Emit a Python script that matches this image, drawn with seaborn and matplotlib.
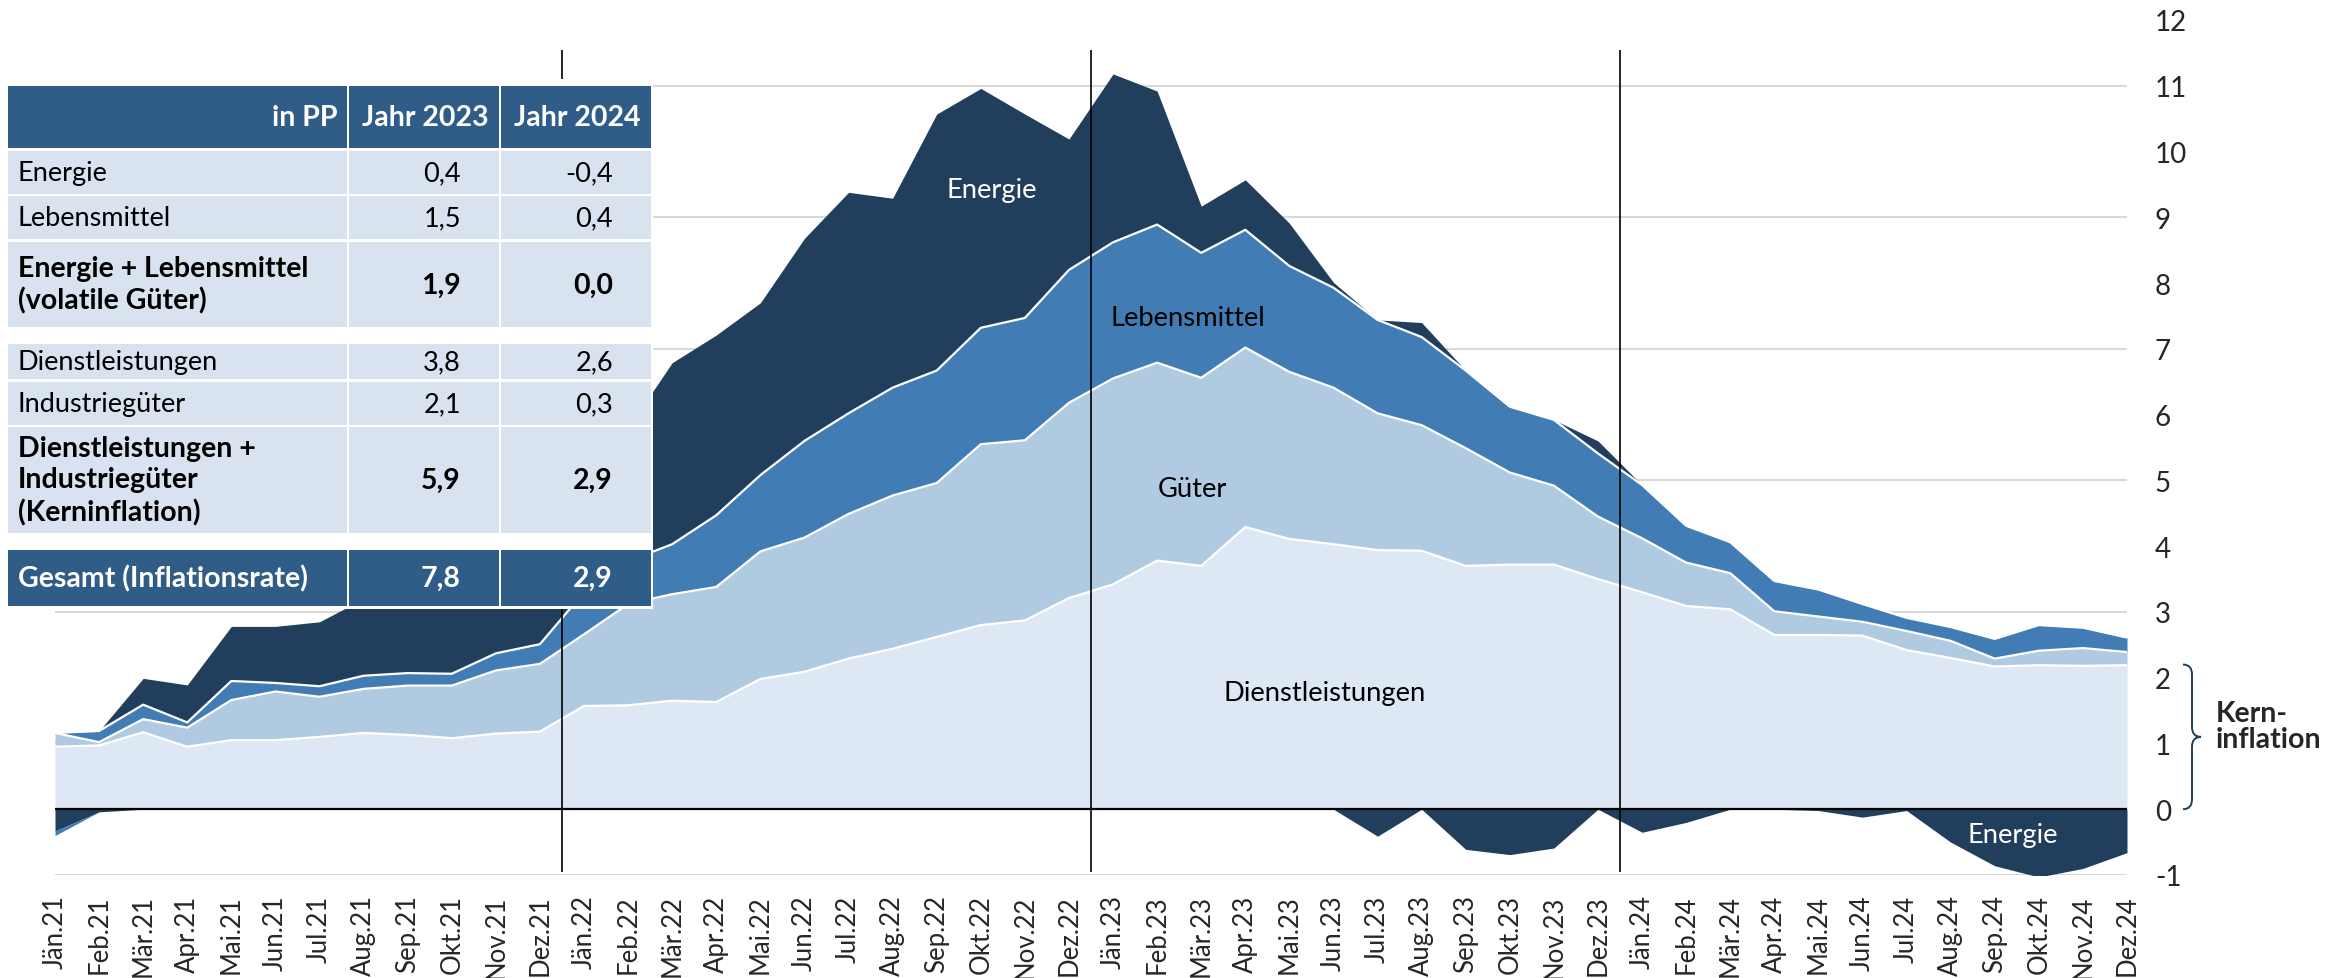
import numpy as np
import pandas as pd
import matplotlib
matplotlib.use("Agg")
import matplotlib.pyplot as plt
import matplotlib.transforms as mtransforms
from matplotlib.patches import Rectangle, PathPatch
from matplotlib.path import Path
import seaborn as sns

# --- Daten: Beiträge zur Inflationsrate in Prozentpunkten ---
monate = ["Jän", "Feb", "Mär", "Apr", "Mai", "Jun", "Jul", "Aug", "Sep", "Okt", "Nov", "Dez"]
jahre = ["21", "22", "23", "24"]

dienstleistungen = [0.95, 0.97, 1.17, 0.95, 1.05, 1.05, 1.10, 1.16, 1.13, 1.08, 1.15, 1.18,
                    1.57, 1.58, 1.65, 1.63, 1.98, 2.09, 2.29, 2.44, 2.62, 2.80, 2.87, 3.21,
                    3.42, 3.78, 3.70, 4.29, 4.11, 4.03, 3.94, 3.93, 3.70, 3.72, 3.72, 3.50,
                    3.30, 3.09, 3.04, 2.65, 2.65, 2.64, 2.42, 2.30, 2.17, 2.19, 2.18, 2.19]
gueter = [0.21, 0.05, 0.20, 0.29, 0.61, 0.74, 0.61, 0.67, 0.75, 0.80, 0.96, 1.03,
          1.09, 1.54, 1.62, 1.75, 1.94, 2.04, 2.20, 2.33, 2.34, 2.75, 2.74, 2.97,
          3.13, 3.01, 2.86, 2.73, 2.54, 2.38, 2.08, 1.91, 1.79, 1.40, 1.20, 0.95,
          0.82, 0.66, 0.55, 0.36, 0.28, 0.21, 0.29, 0.26, 0.12, 0.22, 0.27, 0.20]
lebensmittel = [-0.07, 0.17, 0.22, 0.08, 0.29, 0.13, 0.16, 0.20, 0.19, 0.18, 0.26, 0.30,
                0.64, 0.65, 0.76, 1.09, 1.16, 1.47, 1.53, 1.64, 1.71, 1.77, 1.86, 2.02,
                2.07, 2.10, 1.90, 1.79, 1.61, 1.52, 1.42, 1.34, 1.18, 1.00, 1.00, 0.96,
                0.81, 0.56, 0.47, 0.46, 0.41, 0.27, 0.20, 0.21, 0.30, 0.39, 0.31, 0.22]
energie = [-0.33, -0.04, 0.40, 0.57, 0.83, 0.86, 0.98, 1.17, 1.23, 1.64, 1.93, 1.79,
           1.70, 2.03, 2.76, 2.74, 2.62, 3.08, 3.36, 2.88, 3.90, 3.64, 3.10, 1.99,
           2.56, 2.03, 0.71, 0.76, 0.65, 0.08, -0.41, 0.22, -0.61, -0.69, -0.59, 0.19,
           -0.35, -0.20, 0.00, 0.00, -0.02, -0.12, -0.02, -0.50, -0.86, -1.03, -0.90, -0.66]

# Tabelle (in PP)
tab_zeilen = ["Energie", "Lebensmittel", "Energie + Lebensmittel\n(volatile Güter)",
              "Dienstleistungen", "Industriegüter",
              "Dienstleistungen +\nIndustriegüter\n(Kerninflation)", "Gesamt (Inflationsrate)"]
tab_2023 = [0.4, 1.5, 1.9, 3.8, 2.1, 5.9, 7.8]
tab_2024 = [-0.4, 0.4, 0.0, 2.6, 0.3, 2.9, 2.9]
tab_fett = [False, False, True, False, False, True, True]
tab_kopf = ["in PP", "Jahr 2023", "Jahr 2024"]

# --- Farben ---
C_ENERGIE = "#213F5D"
C_LEBENS = "#417CB4"
C_GUETER = "#B0CAE1"
C_DIENST = "#DDE8F4"
C_KOPF = "#305D88"
C_ZEILE = "#D8E3EF"
C_GRID = "#D9D9D9"

sns.set_theme(style="white")
plt.rcParams['font.family'] = ['Lato', 'DejaVu Sans']

df = pd.DataFrame({
    "monat": np.arange(len(dienstleistungen)),
    "dienst": dienstleistungen,
    "gueter": gueter,
    "lebens": lebensmittel,
    "energie": energie,
})
df["t1"] = df["dienst"]
df["t2"] = df["t1"] + df["gueter"]
df["t3"] = df["t2"] + df["lebens"].clip(lower=0)
df["t4"] = df["t3"] + df["energie"].clip(lower=0)
df["n1"] = df["energie"].clip(upper=0)
df["n2"] = df["n1"] + df["lebens"].clip(upper=0)

labels = [f"{m}.{j}" for j in jahre for m in monate]

W, H = 2346, 979
fig = plt.figure(figsize=(W / 100, H / 100), dpi=100)
ax = fig.add_axes([55 / W, (H - 876) / H, 2072 / W, (876 - 21) / H])

x = df["monat"]
for v in range(-1, 12, 2):
    ax.axhline(v, color=C_GRID, lw=1.5, zorder=1)

ax.fill_between(x, 0, df["t1"], color=C_DIENST, lw=0, zorder=2)
ax.fill_between(x, df["t1"], df["t2"], color=C_GUETER, lw=0, zorder=2)
ax.fill_between(x, df["t2"], df["t3"], color=C_LEBENS, lw=0, zorder=2)
ax.fill_between(x, df["t3"], df["t4"], color=C_ENERGIE, lw=0, zorder=2)
ax.fill_between(x, 0, df["n1"], color=C_ENERGIE, lw=0, zorder=2)
ax.fill_between(x, df["n1"], df["n2"], color=C_LEBENS, lw=0, zorder=2)

for col in ["t1", "t2", "t3"]:
    sns.lineplot(data=df, x="monat", y=col, color="white", lw=1.6, ax=ax, zorder=3)

ax.axhline(0, color="black", lw=1.6, zorder=4)

# Jahrestrennlinien
jahr_grenzen = [12 * k - 0.5 for k in range(1, len(jahre))]
ax.vlines(jahr_grenzen, -0.95, 11.55, color="black", lw=1.2, zorder=5, clip_on=False)

ax.set_xlim(0, len(labels) - 1)
ax.set_ylim(-1, 12)
ax.set_xticks(x)
ax.set_xticklabels(labels, rotation=90, fontsize=18.5)
ax.yaxis.tick_right()
ax.set_yticks(range(-1, 13))
ax.set_yticklabels([str(v) for v in range(-1, 13)], fontsize=20)
ax.tick_params(axis="x", length=0, pad=14)
ax.tick_params(axis="y", length=0, pad=20)
ax.set_xlabel("")
ax.set_ylabel("")
for s in ax.spines.values():
    s.set_visible(False)

# Flächenbeschriftungen
fs_lab = 19.7
ax.text(21.25, 9.43, "Energie", color="white", fontsize=fs_lab, ha="center", va="center", zorder=6)
ax.text(25.7, 7.47, "Lebensmittel", color="black", fontsize=fs_lab, ha="center", va="center", zorder=6)
ax.text(25.8, 4.88, "Güter", color="black", fontsize=fs_lab, ha="center", va="center", zorder=6)
ax.text(28.8, 1.78, "Dienstleistungen", color="black", fontsize=fs_lab, ha="center", va="center", zorder=6)
ax.text(44.4, -0.38, "Energie", color="white", fontsize=fs_lab, ha="center", va="center", zorder=6)

# --- Overlay in Pixelkoordinaten für Tabelle und Klammer ---
ov = fig.add_axes([0, 0, 1, 1])
ov.set_xlim(0, W)
ov.set_ylim(H, 0)
ov.axis("off")
ov.patch.set_alpha(0)
ov.set_zorder(10)

ov.add_patch(Rectangle((0, 80), 653, 530, color="white", lw=0))
spalten = [(8, 347), (349, 499), (501, 651)]
zeilen = [(87, 149), (152, 195), (197, 240), (243, 328), (345, 380), (383, 426), (428, 534), (551, 607)]


def zelle(row, dunkel):
    y0, y1 = row
    for x0, x1 in spalten:
        ov.add_patch(Rectangle((x0, y0), x1 - x0, y1 - y0, color=C_KOPF if dunkel else C_ZEILE, lw=0))


def fs(fett):
    return 20.5 if fett else 19.5


# Kopfzeile
zelle(zeilen[0], True)
ym = sum(zeilen[0]) / 2
for (x0, x1), t in zip(spalten, tab_kopf):
    ov.text(x1 - 10, ym, t, color="white", fontsize=fs(True), fontweight="bold", ha="right", va="center")

for k, name in enumerate(tab_zeilen):
    row = zeilen[k + 1]
    dunkel = k == len(tab_zeilen) - 1
    zelle(row, dunkel)
    ym = sum(row) / 2
    farbe = "white" if dunkel else "black"
    gew = "bold" if tab_fett[k] else "normal"
    ov.text(18, ym, name, color=farbe, fontsize=fs(tab_fett[k]), fontweight=gew,
            ha="left", va="center", linespacing=1.25)
    for (x0, x1), wert in zip(spalten[1:], (tab_2023[k], tab_2024[k])):
        ov.text(x1 - 38, ym, f"{wert:.1f}".replace(".", ","), color=farbe, fontsize=fs(tab_fett[k]),
                fontweight=gew, ha="right", va="center")

# Klammer "Kerninflation"
tr = mtransforms.blended_transform_factory(ov.transData, ax.transData)
L, S, T = 2183, 2192, 2201
top, bot = 2.2, 0.0
mid, d = (top + bot) / 2, 0.15
verts = [(L, top), (S, top), (S, top - d), (S, mid + d), (S, mid), (T, mid),
         (S, mid), (S, mid - d), (S, bot + d), (S, bot), (L, bot)]
codes = [Path.MOVETO, Path.CURVE3, Path.CURVE3, Path.LINETO, Path.CURVE3, Path.CURVE3,
         Path.CURVE3, Path.CURVE3, Path.LINETO, Path.CURVE3, Path.CURVE3]
ov.add_patch(PathPatch(Path(verts, codes), fill=False, edgecolor=C_ENERGIE, lw=1.4,
                       transform=tr, clip_on=False))
ov.text(2216, 1.26, "Kern-\ninflation", transform=tr, fontsize=20.5, fontweight="bold",
        ha="left", va="center", linespacing=1.0)

fig.savefig("out.png", dpi=100)
